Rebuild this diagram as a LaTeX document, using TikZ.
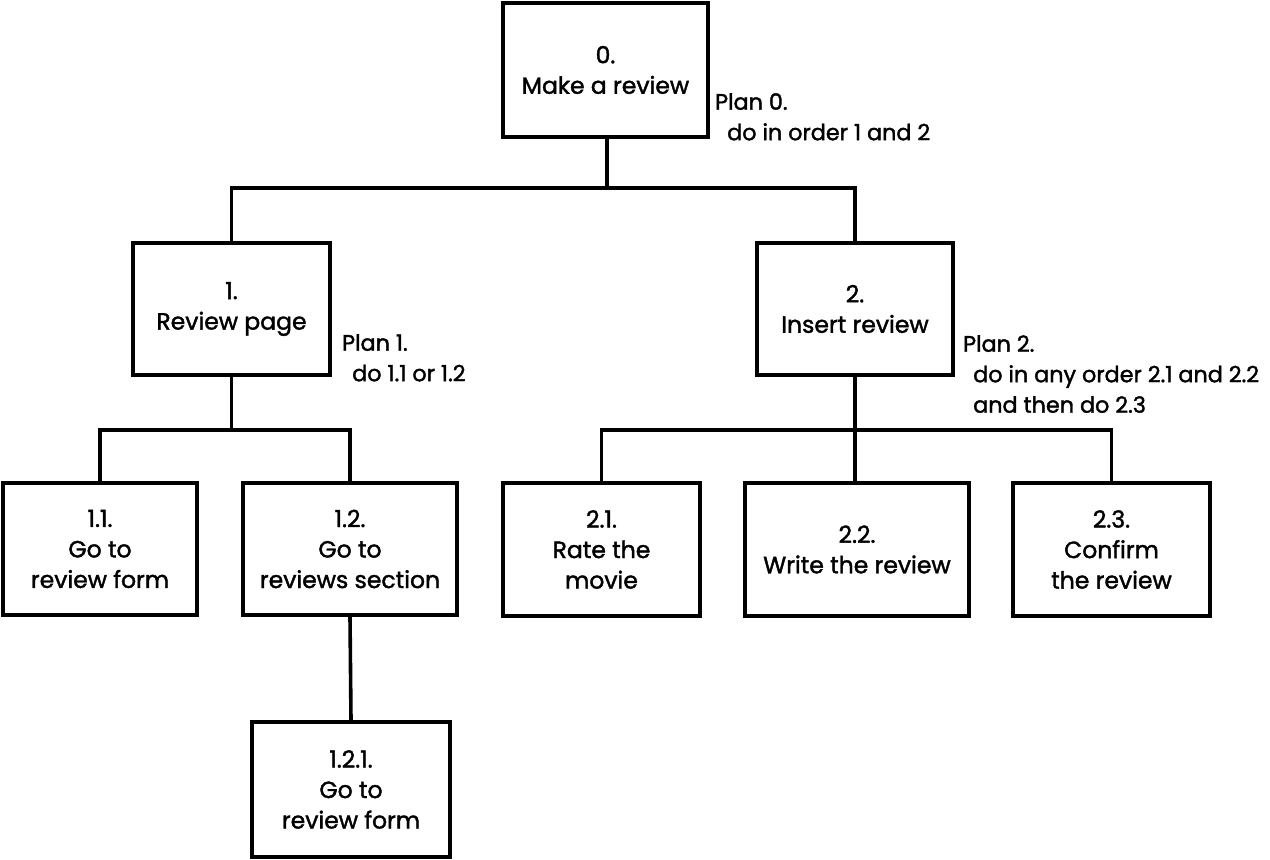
\documentclass[tikz,border=0pt]{standalone}
\usepackage{fontspec}
\setmainfont{Poppins}[FakeBold=1.6]
\begin{document}
\begin{tikzpicture}[x=1pt,y=-1pt,
  task/.style={draw=black, line width=4.2pt, fill=white, align=center,
    inner sep=0pt, font=\fontsize{23.5}{30.5}\selectfont},
  link/.style={draw=black, line width=3.6pt},
  plan/.style={anchor=north west, align=left, inner sep=0pt,
    font=\fontsize{22.3}{30.5}\selectfont}]
  \useasboundingbox (0,0) rectangle (1270,860);

  % task boxes
  \node[task, minimum width=205pt, minimum height=134pt] (t0) at (605.5,70) {0.\\Make a review};
  \node[task, minimum width=197pt, minimum height=132pt] (t1) at (231.5,309) {1.\\Review page};
  \node[task, minimum width=196pt, minimum height=132pt] (t2) at (855,309) {2.\\Insert review};
  \node[task, minimum width=194pt, minimum height=132pt] (t11) at (100,549) {1.1.\\Go to\\review form};
  \node[task, minimum width=214pt, minimum height=132pt] (t12) at (350,549) {1.2.\\Go to\\reviews section};
  \node[task, minimum width=197pt, minimum height=133pt] (t21) at (601.5,549.5) {2.1.\\Rate the\\movie};
  \node[task, minimum width=224pt, minimum height=133pt] (t22) at (857,549.5) {2.2.\\Write the review};
  \node[task, minimum width=197pt, minimum height=133pt] (t23) at (1111.5,549.5) {2.3.\\Confirm\\the review};
  \node[task, minimum width=198pt, minimum height=135pt] (t121) at (351,789.5) {1.2.1.\\Go to\\review form};

  % plans
  \node[plan] (p0) at (715,93) {Plan 0.\\\hspace*{12pt}do in order 1 and 2};
  \node[plan] (p1) at (342,334) {Plan 1.\\\hspace*{10pt}do 1.1 or 1.2};
  \node[plan] (p2) at (963,335) {Plan 2.\\\hspace*{10pt}do in any order 2.1 and 2.2\\\hspace*{10pt}and then do 2.3};

  % hierarchy connectors
  \coordinate (b0) at (607,188);
  \coordinate (b1) at (231.5,430);
  \coordinate (b2) at (855,430);
  \draw[link] (t0.south -| b0) -- (b0) -| (t1.north);
  \draw[link] (b0) -| (t2.north);
  \draw[link] (t1.south) -- (b1) -| (t11.north);
  \draw[link] (b1) -| (t12.north);
  \draw[link] (t2.south) -- (b2) -| (t21.north);
  \draw[link] (b2) -| (t23.north);
  \draw[link] (b2) -- (t22.north -| b2);
  \draw[link] (t12.south) -- (t121.north);
\end{tikzpicture}
\end{document}
